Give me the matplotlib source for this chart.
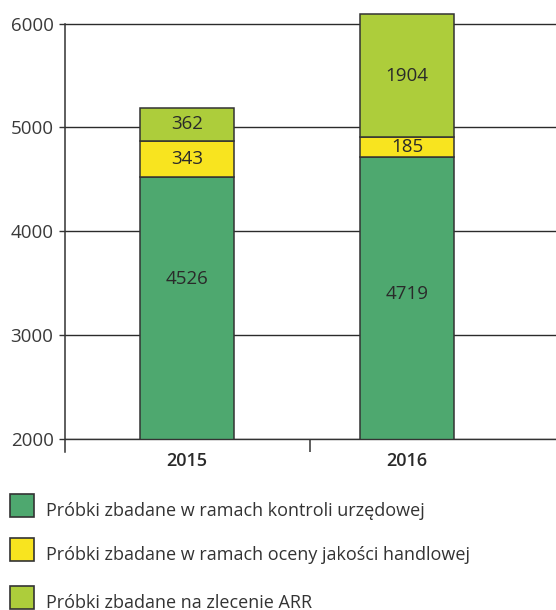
import matplotlib.pyplot as plt
from matplotlib.patches import Rectangle

plt.rcParams['font.family'] = ['Open Sans', 'DejaVu Sans']

# Data
YEARS = ['2015', '2016']
OFFICIAL = [4526, 4719]      # kontrola urzedowa
QUALITY = [343, 185]         # ocena jakosci handlowej
ARR_LABELS = [362, 1904]     # zlecenie ARR (printed values)
ARR_DRAWN = [320, 1184]      # zlecenie ARR as the segment is drawn (not to scale)
GREEN_LABEL_Y = [3540, 3400]

SERIES_NAMES = [
    "Próbki zbadane w ramach kontroli urzędowej",
    "Próbki zbadane w ramach oceny jakości handlowej",
    "Próbki zbadane na zlecenie ARR",
]
COLORS = ["#4EA86F", "#F8E41F", "#ADCD3B"]
EDGE = "#333333"
TXT = "#2a2a2a"

W, H = 556, 610
fig = plt.figure(figsize=(W / 100, H / 100), dpi=100)

y_top = 6120
px_per_unit = (439.3 - 23.5) / 4000
ax_top_px = 23.5 - (y_top - 6000) * px_per_unit
ax = fig.add_axes([64.5 / W, 1 - 439.3 / H, (W - 64.5) / W, (439.3 - ax_top_px) / H])

x = [0, 1]
bw = 0.427
ax.bar(x, OFFICIAL, bw, color=COLORS[0], edgecolor=EDGE, linewidth=1.1, zorder=2)
ax.bar(x, QUALITY, bw, bottom=OFFICIAL, color=COLORS[1], edgecolor=EDGE, linewidth=1.1, zorder=2)
bottom3 = [o + q for o, q in zip(OFFICIAL, QUALITY)]
ax.bar(x, ARR_DRAWN, bw, bottom=bottom3, color=COLORS[2], edgecolor=EDGE, linewidth=1.1, zorder=2)

# value labels
for i in range(2):
    ax.text(x[i], GREEN_LABEL_Y[i], str(OFFICIAL[i]), ha='center', va='center',
            fontsize=13.5, color=TXT, zorder=3)
    ax.text(x[i], OFFICIAL[i] + QUALITY[i] / 2, str(QUALITY[i]), ha='center', va='center',
            fontsize=13.5, color=TXT, zorder=3)
    ax.text(x[i], bottom3[i] + ARR_DRAWN[i] / 2, str(ARR_LABELS[i]), ha='center', va='center',
            fontsize=13.5, color=TXT, zorder=3)

ax.set_xlim(-0.557, 1.677)
ax.set_ylim(2000, y_top)

ax.set_yticks([2000, 3000, 4000, 5000, 6000])
ax.yaxis.grid(True, color='#2b2b2b', linewidth=1.0)
ax.set_axisbelow(True)
ax.tick_params(axis='y', direction='out', length=4.3, width=1.0, color=EDGE,
               pad=3.6, labelsize=13.5, labelcolor='#3a3a3a')

ax.set_xticks([0.558])
ax.set_xticklabels([''])
ax.set_xticks(x, minor=True)
ax.set_xticklabels(YEARS, minor=True, fontsize=13, fontweight='semibold', color=TXT)
ax.tick_params(axis='x', which='major', direction='out', length=9.1, width=1.1, color=EDGE)
ax.tick_params(axis='x', which='minor', length=0, pad=9)

for s in ['top', 'right']:
    ax.spines[s].set_visible(False)
ax.spines['left'].set_bounds(1878, 6000)
ax.spines['left'].set_color(EDGE)
ax.spines['bottom'].set_color(EDGE)
ax.spines['left'].set_linewidth(1.1)
ax.spines['bottom'].set_linewidth(1.0)

# legend drawn by hand
box_tops = [494, 538.3, 586]
for name, col, top in zip(SERIES_NAMES, COLORS, box_tops):
    fig.patches.append(Rectangle((10 / W, 1 - (top + 23) / H), 24 / W, 23 / H,
                                 transform=fig.transFigure, facecolor=col,
                                 edgecolor=EDGE, linewidth=1.2))
    fig.text(46 / W, 1 - (top + 21.5) / H, name, ha='left', va='baseline',
             fontsize=13, color='#333333')

fig.savefig('out.png', dpi=100)
